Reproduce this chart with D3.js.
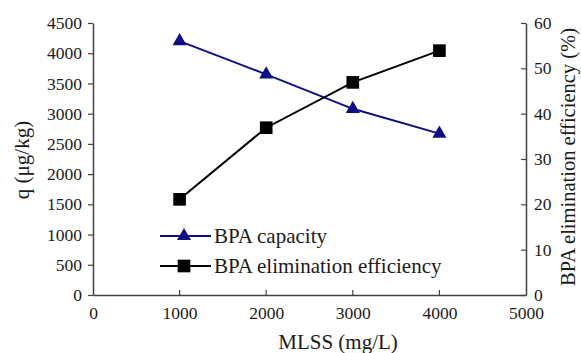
<!DOCTYPE html>
<html>
<head>
<meta charset="utf-8">
<script src="https://cdn.jsdelivr.net/npm/d3@7"></script>
<style>
  body { margin: 0; background: #fff; }
  text { font-family: "Liberation Serif", "Times New Roman", serif; }
</style>
</head>
<body>
<svg id="chart" width="581" height="353"></svg>
<script>
// data
var mlss = [1000, 2000, 3000, 4000];
var capacity = [4200, 3650, 3080, 2670];
var efficiency = [21.1, 36.9, 46.9, 53.9];
var xTicks = [0, 1000, 2000, 3000, 4000, 5000];
var leftTicks = [0, 500, 1000, 1500, 2000, 2500, 3000, 3500, 4000, 4500];
var rightTicks = [0, 10, 20, 30, 40, 50, 60];

var margin = {top: 23, left: 93, right: 55, bottom: 58};
var width = 581 - margin.left - margin.right;
var height = 353 - margin.top - margin.bottom;
var axisColor = "#404040";
var blue = "#0d0d85";
var textColor = "#1a1a1a";

var svg = d3.select("#chart");
var chart = svg.append("g").attr("transform", "translate(" + margin.left + "," + margin.top + ")");

var x = d3.scaleLinear().domain([0, 5000]).range([0, width]);
var yL = d3.scaleLinear().domain([0, 4500]).range([height, 0]);
var yR = d3.scaleLinear().domain([0, 60]).range([height, 0]);

function styleAxis(g) {
  g.select(".domain").attr("stroke", axisColor).attr("stroke-width", 1.5);
  g.selectAll(".tick line").attr("stroke", axisColor).attr("stroke-width", 1.2);
  g.selectAll(".tick text").attr("fill", textColor).style("font-size", "17.5px")
    .style("font-family", "'Liberation Serif', serif");
}

chart.append("g").attr("transform", "translate(0," + height + ")")
  .call(d3.axisBottom(x).tickValues(xTicks).tickSize(0).tickPadding(12).tickFormat(d3.format("d")))
  .call(styleAxis);
// inward ticks on x axis
chart.append("g").selectAll("line").data(mlss).enter().append("line")
  .attr("x1", d => x(d)).attr("x2", d => x(d))
  .attr("y1", height).attr("y2", height - 5)
  .attr("stroke", axisColor).attr("stroke-width", 1.2);

chart.append("g")
  .call(d3.axisLeft(yL).tickValues(leftTicks).tickSize(5).tickPadding(6).tickSizeOuter(0).tickFormat(d3.format("d")))
  .call(styleAxis);

chart.append("g").attr("transform", "translate(" + width + ",0)")
  .call(d3.axisRight(yR).tickValues(rightTicks).tickSize(-5).tickPadding(8).tickSizeOuter(0))
  .call(styleAxis);

// lines
var capLine = d3.line().x((d, i) => x(mlss[i])).y(d => yL(d));
var effLine = d3.line().x((d, i) => x(mlss[i])).y(d => yR(d));

chart.append("path").datum(capacity).attr("d", capLine)
  .attr("fill", "none").attr("stroke", blue).attr("stroke-width", 2);
chart.append("path").datum(efficiency).attr("d", effLine)
  .attr("fill", "none").attr("stroke", "#000").attr("stroke-width", 2);

var tri = d3.symbol().type(d3.symbolTriangle).size(85);
var sq = d3.symbol().type(d3.symbolSquare).size(160);

chart.selectAll("path.cap").data(capacity).enter().append("path").attr("class", "cap")
  .attr("d", tri).attr("fill", blue)
  .attr("transform", (d, i) => "translate(" + x(mlss[i]) + "," + yL(d) + ")");
chart.selectAll("path.eff").data(efficiency).enter().append("path").attr("class", "eff")
  .attr("d", sq).attr("fill", "#000")
  .attr("transform", (d, i) => "translate(" + x(mlss[i]) + "," + yR(d) + ")");

// legend
var legend = [
  {label: "BPA capacity", color: blue, sym: tri, y: 236},
  {label: "BPA elimination efficiency", color: "#000", sym: sq, y: 266}
];
var lg = svg.append("g");
legend.forEach(function (l) {
  lg.append("line").attr("x1", 160).attr("x2", 211).attr("y1", l.y).attr("y2", l.y)
    .attr("stroke", l.color).attr("stroke-width", 2);
  lg.append("path").attr("d", l.sym).attr("fill", l.color)
    .attr("transform", "translate(184," + l.y + ")");
  lg.append("text").attr("x", 214).attr("y", l.y + 7).text(l.label)
    .attr("fill", textColor).style("font-size", "21px");
});

// axis titles
svg.append("text").attr("x", 338).attr("y", 349).attr("text-anchor", "middle")
  .attr("fill", textColor).style("font-size", "21px").text("MLSS (mg/L)");
svg.append("text").attr("transform", "translate(29,160) rotate(-90)").attr("text-anchor", "middle")
  .attr("fill", textColor).style("font-size", "21px").text("q (μg/kg)");
svg.append("text").attr("transform", "translate(575,157) rotate(-90)").attr("text-anchor", "middle")
  .attr("fill", textColor).style("font-size", "20.5px").text("BPA elimination efficiency (%)");
</script>
</body>
</html>
